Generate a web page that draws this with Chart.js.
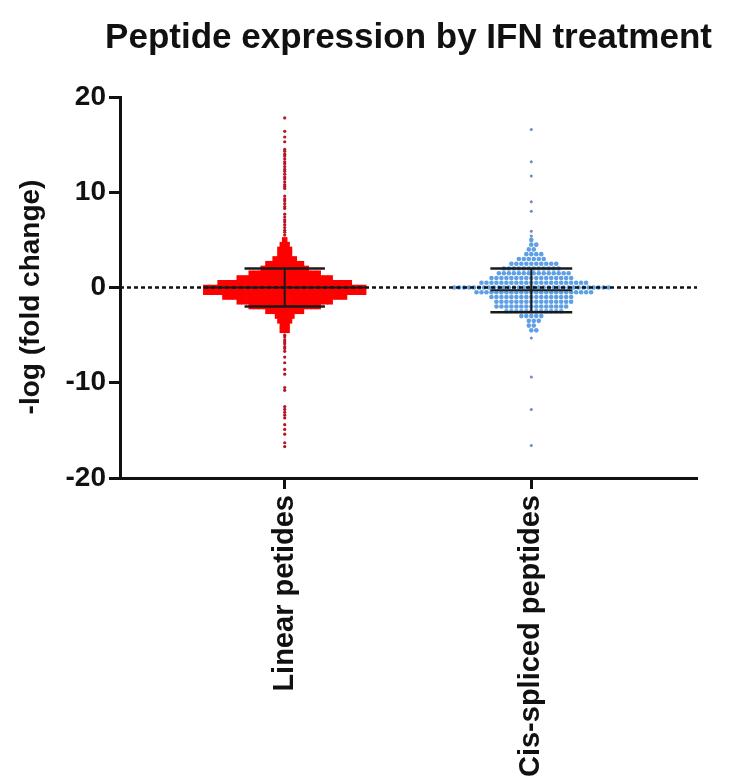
<!DOCTYPE html>
<html><head><meta charset="utf-8">
<script src="https://cdn.jsdelivr.net/npm/chart.js@4.4.0/dist/chart.umd.min.js"></script>
<style>html,body{margin:0;padding:0;background:#fff}canvas{display:block}</style>
</head><body>
<canvas id="c" width="729" height="782"></canvas>
<script>
// ---- data ----
const titleText = 'Peptide expression by IFN treatment';
const yTitle = '-log (fold change)';
const categories = ['Linear petides', 'Cis-spliced peptides'];
const yTicks = [-20, -10, 0, 10, 20];

// swarm core: value bins and number of dots per bin
const linearBinY     = [5, 4.5, 4, 3.5, 3, 2.5, 2, 1.5, 1, 0.5, 0, -0.5, -1, -1.5, -2, -2.5, -3, -3.5, -4, -4.5];
const linearBinCount = [1, 2, 3, 3, 5, 8, 10, 15, 20, 28, 34, 34, 26, 20, 15, 8, 4, 3, 2, 2];
const linearTail = [17.8, 16.4, 15.8, 15.3, 14.5, 14.3, 14.0, 13.8, 13.5, 13.2, 13.0, 12.7, 12.4, 12.2,
  11.9, 11.6, 11.4, 11.1, 10.8, 10.6, 10.4, 9.6, 9.3, 9.1, 8.8, 8.5, 8.3, 7.7, 7.4, 7.1, 6.9, 6.6,
  6.3, 6.0, 5.8, 5.5, -5.0, -5.2, -5.5, -5.7, -5.9, -6.2, -6.4, -6.7, -7.3, -7.9, -8.6, -9.1,
  -10.5, -10.8, -12.5, -12.8, -13.1, -13.4, -13.7, -14.4, -14.9, -15.4, -16.3, -16.7];

const splicedBinY     = [5, 4.5, 4, 3.5, 3, 2.5, 2, 1.5, 1, 0.5, 0, -0.5, -1, -1.5, -2, -2.5, -3, -3.5, -4, -4.5];
const splicedBinCount = [1, 2, 2, 4, 6, 10, 12, 15, 17, 22, 32, 24, 17, 16, 15, 12, 5, 3, 2, 2];
const splicedTail = [16.6, 13.2, 11.7, 9.0, 8.0, 5.9, 5.4, -5.3, -9.4, -12.8, -16.6];

const means  = [0.0, -0.3];
const sdHigh = [2.0, 2.0];
const sdLow  = [-2.0, -2.6];

// ---- build datasets ----
const X_MIN = -0.668, X_MAX = 1.672;
function swarm(binY, binCount, idx, spacing, stagger) {
  const pts = [];
  binY.forEach((y, r) => {
    const n = binCount[r];
    const shift = (stagger && r % 2) ? spacing / 2 : 0;
    for (let i = 0; i < n; i++) pts.push({ x: idx + (i - (n - 1) / 2) * spacing + shift, y });
  });
  return pts;
}
const tailPts = (vals, idx) => vals.map(v => ({ x: idx, y: v }));

const datasets = [];
datasets.push({ data: swarm(linearBinY, linearBinCount, 0, 0.0194, false), pointStyle: 'rect',
  pointRadius: 3.9, pointBorderWidth: 0, backgroundColor: 'rgb(255,0,0)', borderColor: 'rgb(255,0,0)', order: 5 });
datasets.push({ data: tailPts(linearTail, 0), pointRadius: 1.6, pointBorderWidth: 0,
  backgroundColor: 'rgb(185,20,35)', order: 5 });
datasets.push({ data: swarm(splicedBinY, splicedBinCount, 1, 0.0202, true), pointRadius: 2.3,
  pointBorderWidth: 0, backgroundColor: 'rgb(95,160,228)', order: 5 });
datasets.push({ data: tailPts(splicedTail, 1), pointRadius: 1.5, pointBorderWidth: 0,
  backgroundColor: 'rgb(110,140,195)', order: 5 });

// zero reference line
datasets.push({ data: [{ x: X_MIN, y: 0 }, { x: X_MAX, y: 0 }], showLine: true, pointRadius: 0,
  borderColor: '#111', borderWidth: 2.5, borderDash: [4, 3], order: 3 });

// mean +/- SD bars
const capW = [0.163, 0.166], meanW = [0.33, 0.166];
function seg(a, b, w) {
  return { data: [a, b], showLine: true, pointRadius: 0, borderColor: '#1a1a1a', borderWidth: w, order: 1 };
}
for (let i = 0; i < 2; i++) {
  datasets.push(seg({ x: i - capW[i], y: sdHigh[i] }, { x: i + capW[i], y: sdHigh[i] }, 2.5));
  datasets.push(seg({ x: i - capW[i], y: sdLow[i] }, { x: i + capW[i], y: sdLow[i] }, 2.5));
  datasets.push(seg({ x: i, y: sdLow[i] }, { x: i, y: sdHigh[i] }, 2));
  datasets.push(seg({ x: i - meanW[i], y: means[i] }, { x: i + meanW[i], y: means[i] }, 2));
}

const FONT = '"Liberation Sans", Arial, sans-serif';
Chart.defaults.font.family = FONT;
Chart.defaults.color = '#111';

const textPlugin = {
  id: 'texts',
  afterDraw(chart) {
    const ctx = chart.ctx, ca = chart.chartArea;
    ctx.save();
    ctx.fillStyle = '#111';
    ctx.font = 'bold 35px ' + FONT;
    ctx.textAlign = 'center';
    ctx.textBaseline = 'alphabetic';
    ctx.fillText(titleText, (ca.left + ca.right) / 2, 48);
    ctx.font = 'bold 28px ' + FONT;
    ctx.translate(31, 297);
    ctx.rotate(-Math.PI / 2);
    ctx.textBaseline = 'middle';
    ctx.fillText(yTitle, 0, 0);
    ctx.restore();
  }
};

const axisGrid = { display: true, drawOnChartArea: false, drawTicks: true, tickLength: 11, tickWidth: 3, tickColor: '#111' };
const axisBorder = { display: true, color: '#111', width: 3 };

new Chart(document.getElementById('c'), {
  type: 'scatter',
  data: { datasets },
  plugins: [textPlugin],
  options: {
    responsive: false,
    animation: false,
    events: [],
    layout: { padding: { top: 97, right: 32, left: 0, bottom: 0 } },
    plugins: { legend: { display: false }, tooltip: { enabled: false }, title: { display: false } },
    scales: {
      x: {
        type: 'linear', min: X_MIN, max: X_MAX,
        afterBuildTicks: s => { s.ticks = [{ value: 0 }, { value: 1 }]; },
        afterFit: s => { s.height = 304; },
        ticks: { callback: v => categories[v], minRotation: 90, maxRotation: 90, autoSkip: false,
          font: { size: 29, weight: 'bold' }, color: '#111', padding: 6 },
        grid: axisGrid, border: axisBorder
      },
      y: {
        min: -20, max: 20,
        afterBuildTicks: s => { s.ticks = yTicks.map(v => ({ value: v })); },
        afterFit: s => { s.width = 120; },
        ticks: { font: { size: 28, weight: 'bold' }, color: '#111', padding: 3 },
        grid: axisGrid, border: axisBorder
      }
    }
  }
});
</script>
</body></html>
